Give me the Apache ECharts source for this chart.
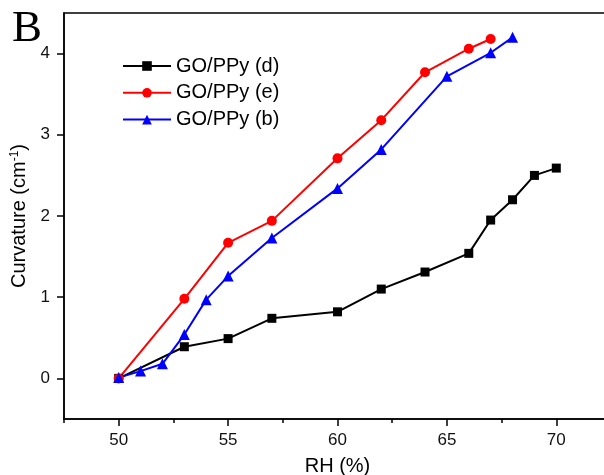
<!DOCTYPE html>
<html>
<head>
<meta charset="utf-8">
<title>Curvature vs RH</title>
<script src="https://cdn.jsdelivr.net/npm/echarts@6.0.0/dist/echarts.min.js"></script>
<style>
  html, body { margin: 0; padding: 0; background: #fff; }
  #main { width: 604px; height: 475px; }
</style>
</head>
<body>
<div id="main"></div>
<script>
// 数据
var seriesNames = ['GO/PPy (d)', 'GO/PPy (e)', 'GO/PPy (b)'];

var rhD = [50, 53, 55, 57, 60, 62, 64, 66, 67, 68, 69, 70];
var curvD = [0, 0.39, 0.49, 0.74, 0.82, 1.10, 1.31, 1.54, 1.95, 2.20, 2.50, 2.59];

var rhE = [50, 53, 55, 57, 60, 62, 64, 66, 67];
var curvE = [0, 0.98, 1.67, 1.94, 2.71, 3.18, 3.77, 4.06, 4.18];

var rhB = [50, 51, 52, 53, 54, 55, 57, 60, 62, 65, 67, 68];
var curvB = [0.01, 0.09, 0.18, 0.54, 0.97, 1.26, 1.73, 2.34, 2.82, 3.72, 4.01, 4.20];

// 刻度
var xTicks = [50, 55, 60, 65, 70];
var xMinorTicks = [47.5, 52.5, 57.5, 62.5, 67.5, 72.5];
var yTicks = [0, 1, 2, 3, 4];

function pairs(xs, ys) {
  return xs.map(function (x, i) { return [x, ys[i]]; });
}

var font = 'Arial, "Liberation Sans", sans-serif';
// 右边框在画布外面 (原图被裁掉了)
var gridPos = { left: 64, top: 13, width: 547, bottom: 56, outerBoundsMode: 'none' };

var myChart = echarts.init(document.getElementById('main'));
myChart.setOption({
  animation: false,
  backgroundColor: '#fff',
  graphic: [{
    type: 'text',
    left: 12,
    top: 7,
    style: {
      text: 'B',
      font: '45px "Liberation Serif", "Times New Roman", serif',
      fill: '#000'
    }
  }],
  legend: {
    data: seriesNames,
    orient: 'vertical',
    left: 122,
    top: 56,
    padding: 0,
    itemWidth: 48,
    itemHeight: 12,
    itemGap: 6.8,
    textStyle: { fontFamily: font, fontSize: 20, color: '#000', lineHeight: 20 }
  },
  grid: [
    Object.assign({ show: true, borderColor: '#000', borderWidth: 1.5 }, gridPos),
    // 第二个grid只用来画x轴的小刻度
    Object.assign({ show: false }, gridPos)
  ],
  xAxis: [{
    type: 'value',
    gridIndex: 0,
    min: 47.5,
    max: 72.5,
    name: 'RH (%)',
    nameLocation: 'middle',
    nameGap: 37,
    nameTextStyle: { fontFamily: font, fontSize: 20, color: '#000' },
    axisLine: { onZero: false, lineStyle: { color: '#000', width: 1.5 } },
    axisTick: { customValues: xTicks, length: 7, lineStyle: { color: '#000', width: 1.5 } },
    axisLabel: { customValues: xTicks, margin: 13, fontFamily: font, fontSize: 17, color: '#111' },
    splitLine: { show: false }
  }, {
    type: 'value',
    gridIndex: 1,
    min: 47.5,
    max: 72.5,
    axisLine: { show: false, onZero: false },
    axisTick: { customValues: xMinorTicks, length: 4, lineStyle: { color: '#000', width: 1.5 } },
    axisLabel: { show: false },
    splitLine: { show: false }
  }],
  yAxis: [{
    type: 'value',
    gridIndex: 0,
    min: -0.5,
    max: 4.5,
    name: '{a|Curvature (cm}{s|-1}{a|)}',
    nameLocation: 'middle',
    nameGap: 24,
    nameRotate: 90,
    nameTextStyle: {
      rich: {
        a: { fontFamily: font, fontSize: 20, color: '#000', lineHeight: 22 },
        s: { fontFamily: font, fontSize: 12, color: '#000', verticalAlign: 'top', lineHeight: 12 }
      }
    },
    axisLine: { onZero: false, lineStyle: { color: '#000', width: 1.5 } },
    axisTick: { customValues: yTicks, length: 7, lineStyle: { color: '#000', width: 1.5 } },
    axisLabel: { customValues: yTicks, margin: 14, fontFamily: font, fontSize: 17, color: '#111' },
    splitLine: { show: false }
  }, {
    type: 'value',
    gridIndex: 1,
    min: -0.5,
    max: 4.5,
    show: false
  }],
  series: [
    {
      name: seriesNames[0],
      type: 'line',
      data: pairs(rhD, curvD),
      symbol: 'rect',
      symbolSize: 9,
      itemStyle: { color: '#000' },
      lineStyle: { color: '#000', width: 2 }
    },
    {
      name: seriesNames[1],
      type: 'line',
      data: pairs(rhE, curvE),
      symbol: 'circle',
      symbolSize: 10,
      itemStyle: { color: '#ff0000' },
      lineStyle: { color: '#ff0000', width: 2 }
    },
    {
      name: seriesNames[2],
      type: 'line',
      data: pairs(rhB, curvB),
      symbol: 'triangle',
      symbolSize: 11,
      itemStyle: { color: '#0000ff' },
      lineStyle: { color: '#0000ff', width: 2 }
    }
  ]
});
</script>
</body>
</html>
